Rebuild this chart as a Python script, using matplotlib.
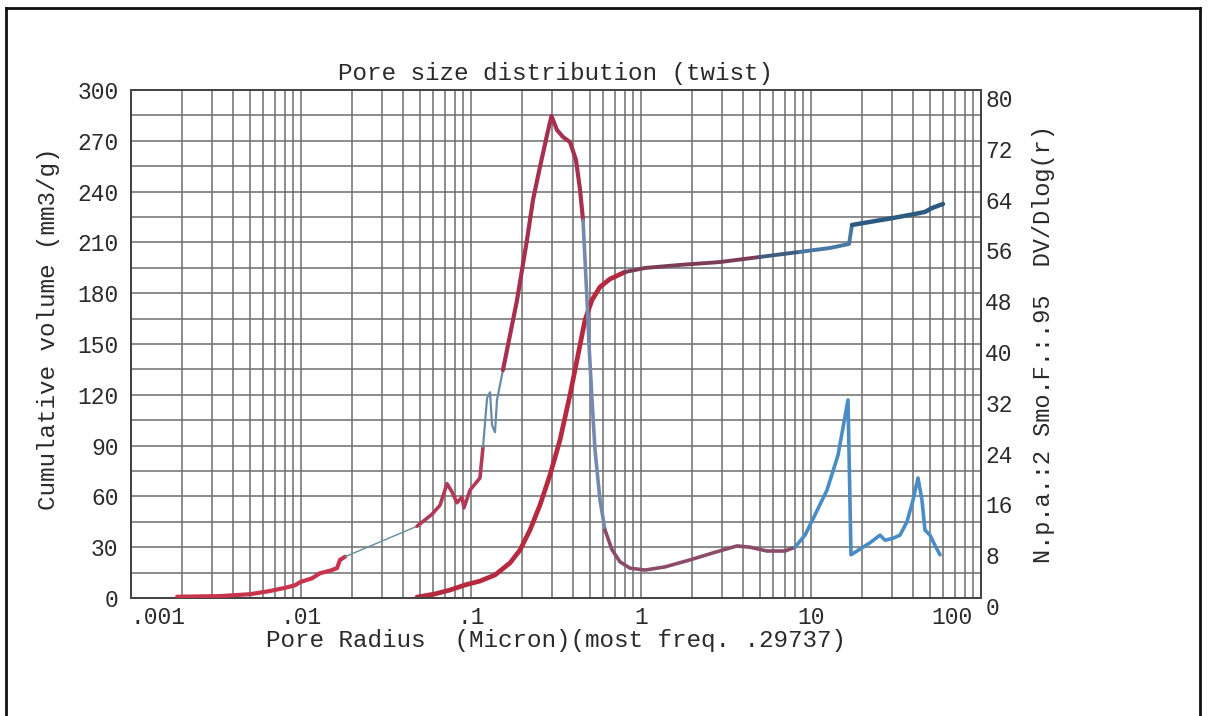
import numpy as np
import matplotlib
matplotlib.use("Agg")
import matplotlib.pyplot as plt
from matplotlib.ticker import FixedLocator, LogLocator, NullFormatter, FixedFormatter
from matplotlib.transforms import ScaledTranslation
from matplotlib.lines import Line2D

# ---- data -------------------------------------------------------------
# Pore size distribution DV/Dlog(r) (right axis)
dv_radius = [0.00187, 0.00334, 0.00501, 0.00657, 0.00805, 0.00922, 0.00987,
             0.0116, 0.01293, 0.01482, 0.01629, 0.01696, 0.01815,
             0.0481, 0.0536, 0.0590, 0.0657, 0.0723, 0.0773, 0.0827, 0.0885,
             0.0909, 0.0987, 0.1129, 0.1177, 0.1243, 0.1294, 0.1330, 0.1384,
             0.1422, 0.1542, 0.1696, 0.1865, 0.2135, 0.2316, 0.2546, 0.2800,
             0.29737, 0.3206, 0.3477, 0.3822, 0.4145, 0.4379, 0.4560, 0.4686,
             0.4815, 0.4947, 0.5151, 0.5364, 0.5740, 0.6142, 0.6752, 0.752,
             0.861, 1.056, 1.384, 1.942, 2.725, 3.67, 4.38, 5.51, 7.03, 8.05,
             9.22, 10.56, 12.42, 14.42, 16.51, 17.19, 19.42, 22.24, 25.47,
             27.24, 30.36, 33.38, 36.7, 39.8, 42.6, 44.97, 46.8, 50.1, 53.6,
             57.4]
dv_value = [0.2, 0.3, 0.6, 1.1, 1.6, 2.0, 2.5,
            3.1, 3.9, 4.3, 4.7, 6.0, 6.5,
            11.3, 12.3, 13.2, 14.6, 18.0, 16.7, 15.0, 15.9,
            14.2, 17.0, 18.9, 23.8, 31.5, 32.4, 27.2, 26.1,
            31.2, 35.9, 41.4, 46.9, 56.4, 62.7, 67.9, 72.9,
            75.9, 73.7, 72.6, 71.8, 69.0, 64.3, 59.5, 53.2,
            46.9, 39.8, 31.2, 23.3, 15.4, 10.7, 7.6, 5.7,
            4.7, 4.4, 4.9, 6.0, 7.2, 8.2, 8.0, 7.4, 7.4, 8.0,
            9.9, 13.1, 17.0, 22.5, 31.2, 6.8, 7.7, 8.7, 9.9,
            9.1, 9.4, 9.9, 12.0, 15.4, 18.9, 15.4, 10.7, 9.9, 8.3,
            6.8]

# Cumulative intruded volume, mm3/g (left axis)
cum_radius = [0.0481, 0.0614, 0.0752, 0.0922, 0.1129, 0.1384, 0.1696, 0.1942,
              0.2224, 0.2546, 0.2915, 0.3338, 0.3822, 0.4260, 0.4686, 0.5151,
              0.5740, 0.6571, 0.8053, 1.056, 1.696, 2.915, 5.01, 8.61, 12.94,
              16.74, 17.42, 22.24, 30.36, 40.9, 46.8, 51.5, 59.8]
cum_volume = [0.5, 2.4, 4.7, 7.7, 10.0, 13.6, 20.7, 28.3,
              40.2, 54.9, 72.6, 93.3, 119.9, 143.5, 164.2, 176.0,
              183.7, 188.4, 192.5, 194.9, 196.7, 198.4, 201.4, 204.4, 206.7,
              209.1, 220.3, 222.1, 224.4, 226.8, 228.0, 230.3, 232.7]

x_tick_values = [0.001, 0.01, 0.1, 1, 10, 100]
x_tick_labels = [".001", ".01", ".1", "1", "10", "100"]
left_ticks = list(range(0, 301, 30))
right_ticks = list(range(0, 81, 8))

title = "Pore size distribution (twist)"
xlabel = "Pore Radius  (Micron)(most freq. .29737)"
ylabel_left = "Cumulative volume (mm3/g)"
ylabel_right = "N.p.a.:2 Smo.F.:.95  DV/Dlog(r)"

# ---- styling ----------------------------------------------------------
FONT = ["Liberation Mono", "DejaVu Sans Mono"]
TXT = "#2a2a2a"
GRID = "#6e6e6e"


def draw_segments(ax, x, y, pieces):
    """Draw one curve in consecutive coloured pieces split by radius."""
    x = np.asarray(x, float)
    y = np.asarray(y, float)
    for lo, hi, color, lw in pieces:
        idx = np.where((x >= lo) & (x < hi))[0]
        if idx.size == 0:
            continue
        i0 = idx[0]
        i1 = min(idx[-1] + 1, len(x) - 1)
        ax.plot(x[i0:i1 + 1], y[i0:i1 + 1], color=color, lw=lw,
                solid_capstyle="round", solid_joinstyle="round", zorder=3)


fig = plt.figure(figsize=(12.08, 7.16), dpi=100)
fig.patch.set_facecolor("white")
ax = fig.add_axes([131 / 1208, 118 / 716, 850 / 1208, 508 / 716])
ax2 = ax.twinx()

ax.set_xscale("log")
ax.set_xlim(1e-3, 100)
ax.set_ylim(0, 300)
ax2.set_ylim(0, 80)

# grid: every decade subdivision, horizontal every 15 units
ax.xaxis.set_major_locator(FixedLocator(x_tick_values))
ax.xaxis.set_major_formatter(FixedFormatter(x_tick_labels))
ax.xaxis.set_minor_locator(LogLocator(base=10, subs=np.arange(2, 10)))
ax.xaxis.set_minor_formatter(NullFormatter())
ax.yaxis.set_major_locator(FixedLocator(left_ticks))
ax.yaxis.set_minor_locator(FixedLocator(np.arange(15, 300, 30)))
ax2.yaxis.set_major_locator(FixedLocator(right_ticks))
ax.grid(True, which="both", color=GRID, lw=1.1)
ax.set_axisbelow(True)

for a in (ax, ax2):
    a.tick_params(which="both", length=0)
    for s in a.spines.values():
        s.set_color("#444444")
        s.set_linewidth(1.4)

ax.tick_params(axis="x", pad=6, labelsize=16.5, labelcolor=TXT)
ax.tick_params(axis="y", pad=9, labelsize=16.5, labelcolor=TXT)
ax2.tick_params(axis="y", pad=3, labelsize=16.5, labelcolor=TXT)
for lbl in ax.get_xticklabels() + ax.get_yticklabels() + ax2.get_yticklabels():
    lbl.set_family(FONT)
xl = ax.get_xticklabels()
xl[0].set_ha("left")
xl[-1].set_ha("right")
xl[-1].set_transform(xl[-1].get_transform()
                     + ScaledTranslation(-8 / 100, 0, fig.dpi_scale_trans))
for lbl in ax2.get_yticklabels():
    lbl.set_transform(lbl.get_transform()
                      + ScaledTranslation(0, -8 / 100, fig.dpi_scale_trans))

# curves
draw_segments(ax2, dv_radius, dv_value, [
    (0.001, 0.0175, "#c7344c", 3.0),
    (0.0175, 0.048, "#5f8f9a", 1.0),
    (0.048, 0.116, "#b03a58", 2.6),
    (0.116, 0.145, "#6b8aa6", 1.6),
    (0.145, 0.45, "#a5304f", 3.0),
    (0.45, 0.60, "#7489b0", 2.6),
    (0.60, 7.5, "#8a4c68", 2.6),
    (7.5, 100, "#4a8cc6", 2.6),
])
draw_segments(ax, cum_radius, cum_volume, [
    (0.01, 0.7, "#b52a3e", 3.4),
    (0.7, 5.0, "#7b3d55", 2.8),
    (5.0, 8.6, "#3e5c7c", 2.8),
    (8.6, 17.0, "#4a78a4", 2.8),
    (17.0, 100, "#2d5a80", 3.2),
])

# text
ax.set_title(title, family=FONT, fontsize=17.5, color=TXT, pad=7)
ax.set_xlabel(xlabel, family=FONT, fontsize=17.5, color=TXT, labelpad=0)
ax.set_ylabel(ylabel_left, family=FONT, fontsize=17.5, color=TXT)
ax.yaxis.set_label_coords(-0.083, 0.53)
ax2.set_ylabel(ylabel_right, family=FONT, fontsize=17, color=TXT)
ax2.yaxis.set_label_coords(1.060, 0.5)

# page frame
for xs, ys in (([6, 1200], [708, 708]), ([6, 6], [0, 708]), ([1200, 1200], [0, 708])):
    fig.add_artist(Line2D(np.array(xs) / 1208, np.array(ys) / 716,
                          transform=fig.transFigure, color="#111111", lw=2))

fig.savefig("out.png", dpi=100, facecolor="white")
